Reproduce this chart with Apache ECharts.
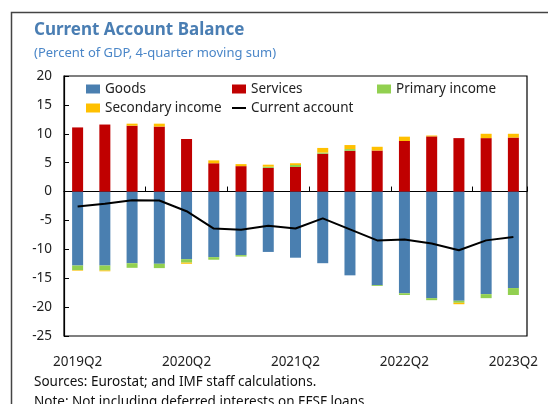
<!DOCTYPE html>
<html><head><meta charset="utf-8">
<script src="https://cdn.jsdelivr.net/npm/echarts@6/dist/echarts.min.js"></script>
<style>html,body{margin:0;padding:0;background:#fff}#c{width:548px;height:404px}</style>
</head><body><div id="c"></div>
<script>
const categories = ['2019Q2','2019Q3','2019Q4','2020Q1','2020Q2','2020Q3','2020Q4','2021Q1','2021Q2','2021Q3','2021Q4','2022Q1','2022Q2','2022Q3','2022Q4','2023Q1','2023Q2'];
const goods = [-12.8,-12.8,-12.4,-12.5,-11.7,-11.35,-11.0,-10.45,-11.45,-12.4,-14.5,-16.2,-17.6,-18.45,-18.9,-17.75,-16.7];
const services = [11.1,11.6,11.4,11.25,9.1,4.9,4.4,4.1,4.25,6.55,7.05,7.1,8.75,9.55,9.25,9.25,9.35];
const primaryIncome = [-0.8,-0.85,-0.8,-0.75,-0.6,-0.45,-0.25,0.2,0.35,0.2,0.3,-0.15,-0.3,-0.35,-0.35,-0.7,-1.2];
const secondaryIncome = [-0.1,-0.15,0.35,0.5,-0.2,0.5,0.35,0.35,0.3,0.8,0.7,0.65,0.75,0.15,-0.25,0.75,0.65];
const currentAccount = [-2.6,-2.1,-1.5,-1.55,-3.4,-6.4,-6.6,-5.9,-6.4,-4.65,-6.55,-8.45,-8.3,-9.0,-10.15,-8.45,-7.85];
const yTicks = [-25,-20,-15,-10,-5,0,5,10,15,20];

const FONT = 'Noto Sans';
const chart = echarts.init(document.getElementById('c'), null, {renderer:'canvas'});
const legendText = {fontFamily: FONT, fontSize: 13.5, color: '#222'};
function leg(name, left, top, icon, h){
  return {data:[name], left:left, top:top, itemWidth:14, itemHeight:h || 9, itemGap:0,
    icon: icon, textStyle: legendText, padding:0, selectedMode:false};
}
chart.setOption({
  animation:false,
  title:[
    {text:'Current Account Balance', left:34, top:22, padding:0, textStyle:{fontFamily:FONT, fontSize:17, fontWeight:'bold', color:'#4a7eb3'}},
    {text:'(Percent of GDP, 4-quarter moving sum)', left:34, top:47, padding:0, textStyle:{fontFamily:FONT, fontSize:13, fontWeight:'normal', color:'#4a86c8'}},
    {text:'Sources: Eurostat; and IMF staff calculations.', left:34, top:375, padding:0, textStyle:{fontFamily:FONT, fontSize:13.5, fontWeight:'normal', color:'#111'}},
    {text:'Note: Not including deferred interests on EFSF loans.', left:34, top:395, padding:0, textStyle:{fontFamily:FONT, fontSize:13.5, fontWeight:'normal', color:'#111'}}
  ],
  graphic:[
    {type:'polyline', shape:{points:[[11.5,404],[11.5,12.5],[548,12.5]]}, style:{stroke:'#444', lineWidth:1.5, fill:null}}
  ],
  legend:[
    leg('Goods', 86, 82, 'rect'),
    leg('Services', 232, 82, 'rect'),
    leg('Primary income', 377, 82, 'rect'),
    leg('Secondary income', 86, 101, 'rect'),
    leg('Current account', 232, 101, 'rect', 2)
  ],
  grid:{left:64, right:21, top:76, bottom:68, show:true, borderColor:'#000', borderWidth:1.2, containLabel:false},
  xAxis:[
    {type:'category', data:categories, boundaryGap:true,
      axisLine:{onZero:true, lineStyle:{color:'#000', width:1.2}},
      axisTick:{show:true, inside:true, length:5, lineStyle:{color:'#000'}},
      axisLabel:{show:false}},
    {type:'category', data:categories, boundaryGap:true, position:'bottom',
      axisLine:{show:false, onZero:false}, axisTick:{show:false},
      axisLabel:{interval:3, margin:19, fontFamily:FONT, fontSize:13.5, color:'#222'}}
  ],
  yAxis:{type:'value', min:-25, max:20, interval:5,
    axisLine:{show:true, lineStyle:{color:'#000', width:1.2}},
    axisTick:{show:true, inside:true, length:5, lineStyle:{color:'#000'}},
    splitLine:{show:false},
    axisLabel:{fontFamily:FONT, fontSize:13.5, color:'#222', margin:12,
      formatter: v => yTicks.includes(v) ? String(v) : ''}},
  series:[
    {name:'Goods', type:'bar', stack:'ca', data:goods, barWidth:11, itemStyle:{color:'#4a7fb0'}},
    {name:'Services', type:'bar', stack:'ca', data:services, barWidth:11, itemStyle:{color:'#c00000'}},
    {name:'Primary income', type:'bar', stack:'ca', data:primaryIncome, barWidth:11, itemStyle:{color:'#92d050'}},
    {name:'Secondary income', type:'bar', stack:'ca', data:secondaryIncome, barWidth:11, itemStyle:{color:'#ffc000'}},
    {name:'Current account', type:'line', data:currentAccount, symbol:'none', z:5,
      lineStyle:{color:'#000', width:2}, itemStyle:{color:'#000'}}
  ]
});
</script></body></html>
